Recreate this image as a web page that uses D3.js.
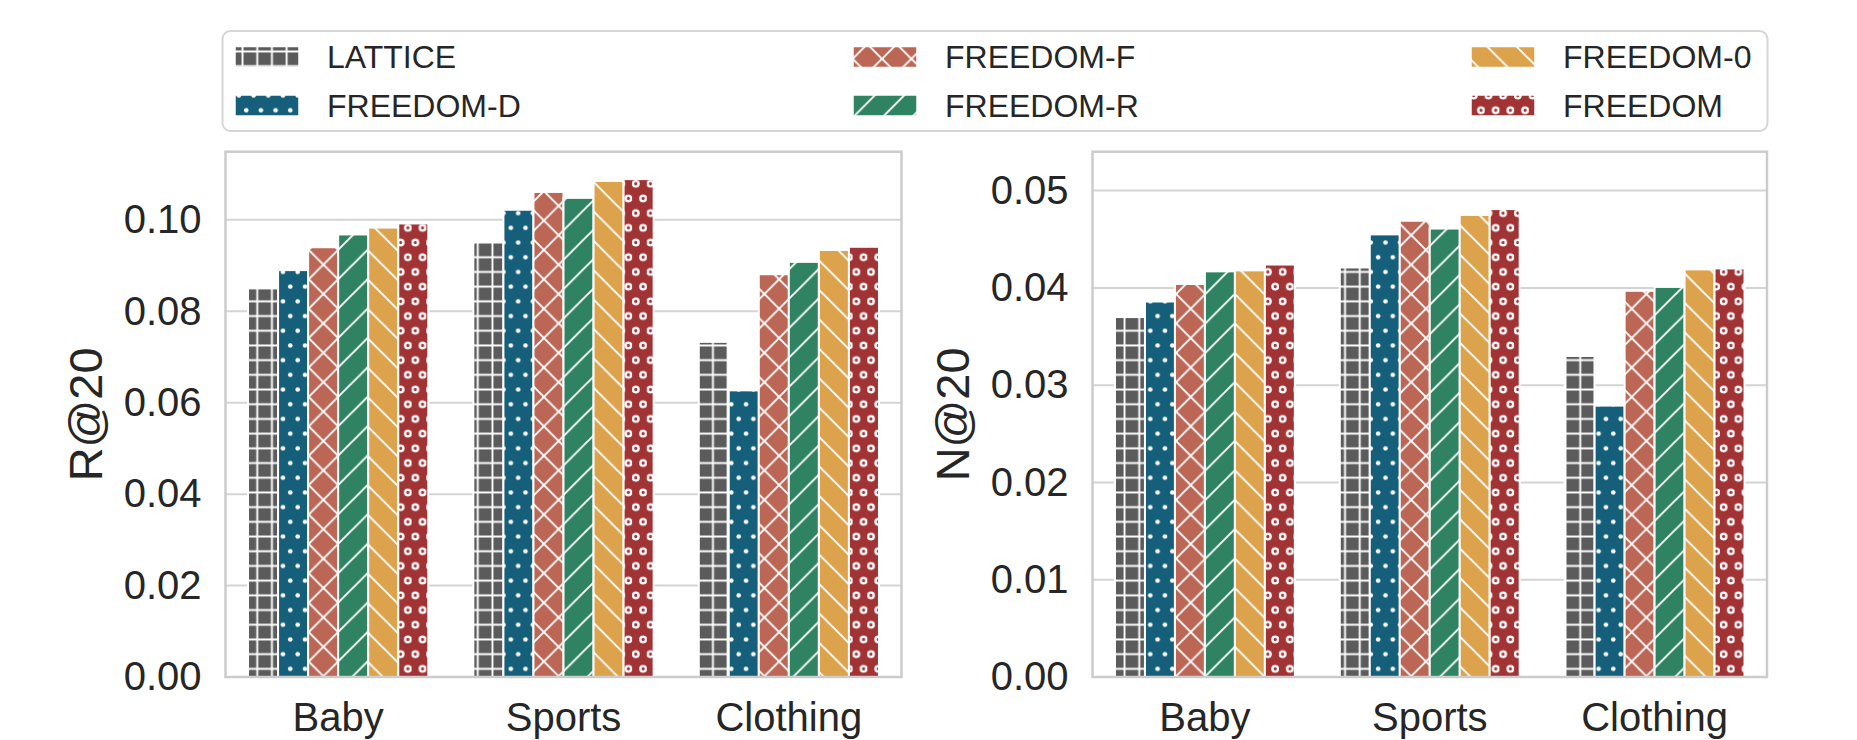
<!DOCTYPE html>
<html>
<head>
<meta charset="utf-8">
<script src="https://cdn.jsdelivr.net/npm/d3@7"></script>
<style>
  body { margin: 0; background: #fff; }
  svg { display: block; }
</style>
</head>
<body>
<div id="chart"></div>
<script>
// categories and methods
const categories = ["Baby", "Sports", "Clothing"];
const methods = ["LATTICE", "FREEDOM-D", "FREEDOM-F", "FREEDOM-R", "FREEDOM-0", "FREEDOM"];

// R@20 per dataset, one value per method
const recallBaby = [0.0850, 0.0890, 0.0940, 0.0968, 0.0983, 0.0992];
const recallSports = [0.0953, 0.1022, 0.1061, 0.1048, 0.1085, 0.1089];
const recallClothing = [0.0733, 0.0627, 0.0881, 0.0908, 0.0934, 0.0941];

// N@20 per dataset
const ndcgBaby = [0.0370, 0.0386, 0.0404, 0.0417, 0.0418, 0.0424];
const ndcgSports = [0.0421, 0.0455, 0.0469, 0.0461, 0.0475, 0.0481];
const ndcgClothing = [0.0330, 0.0279, 0.0397, 0.0401, 0.0419, 0.0420];

const recallTicks = [0, 0.02, 0.04, 0.06, 0.08, 0.10];
const ndcgTicks = [0, 0.01, 0.02, 0.03, 0.04, 0.05];
const recallMax = 0.1149;
const ndcgMax = 0.0540;

const colors = ["#5b5b5b", "#155f7b", "#bc6656", "#2f8262", "#dca24c", "#a23335"];
const FONT = "'Liberation Sans', Arial, sans-serif";
const INK = "#262626";

const W = 1857, H = 740;
const svg = d3.select("#chart").append("svg").attr("width", W).attr("height", H);
const defs = svg.append("defs");

// hatch patterns (matplotlib-like: unit of ~88px, 6 lines per unit)
const s = 14.7, s2 = 29.4, hw = 1.9;
function pat(i, w, h) {
    const p = defs.append("pattern").attr("id", "pat" + i)
        .attr("patternUnits", "userSpaceOnUse").attr("width", w).attr("height", h);
    p.append("rect").attr("width", w).attr("height", h).attr("fill", colors[i]);
    return p;
}
// 0: grid '+'
pat(0, s, s).append("path").attr("d", `M${s / 2},0V${s}M0,${s / 2}H${s}`)
    .attr("stroke", "#fff").attr("stroke-width", hw);
// 1: dots '.'
{
    const p = pat(1, s, s2);
    [[s / 4, s / 2], [s * 3 / 4, s * 1.5]].forEach(([cx, cy]) =>
        p.append("circle").attr("cx", cx).attr("cy", cy).attr("r", 2.3).attr("fill", "#fff"));
}
// 2: cross 'x'
pat(2, s2, s2).append("path")
    .attr("d", `M-2,-2L${s2 + 2},${s2 + 2}M-2,${s2 + 2}L${s2 + 2},-2`)
    .attr("stroke", "#fff").attr("stroke-width", hw);
// 3: '/'
pat(3, s2, s2).append("path")
    .attr("d", `M-2,${s2 + 2}L${s2 + 2},-2M-4,4L4,-4M${s2 - 4},${s2 + 4}L${s2 + 4},${s2 - 4}`)
    .attr("stroke", "#fff").attr("stroke-width", hw);
// 4: '\'
pat(4, s2, s2).append("path")
    .attr("d", `M-2,-2L${s2 + 2},${s2 + 2}M-4,${s2 - 4}L4,${s2 + 4}M${s2 - 4},-4L${s2 + 4},4`)
    .attr("stroke", "#fff").attr("stroke-width", hw);
// 5: rings 'o'
{
    const p = pat(5, s, s2);
    [[s / 4, s / 2], [s * 3 / 4, s * 1.5]].forEach(([cx, cy]) =>
        p.append("circle").attr("cx", cx).attr("cy", cy).attr("r", 2.8)
            .attr("fill", "none").attr("stroke", "#fff").attr("stroke-width", 2.4));
}

function drawPanel(p) {
    const g = svg.append("g");
    const x = d3.scaleBand().domain(categories).range([p.left, p.right]).padding(0);
    const xi = d3.scaleBand().domain(methods)
        .range([x.bandwidth() * 0.1, x.bandwidth() * 0.9]).padding(0);
    const y = d3.scaleLinear().domain([0, p.ymax]).range([p.bottom, p.top]);

    // grid
    g.append("g").selectAll("line").data(p.ticks).join("line")
        .attr("x1", p.left).attr("x2", p.right)
        .attr("y1", d => y(d)).attr("y2", d => y(d))
        .attr("stroke", "#d4d4d4").attr("stroke-width", 2);

    // bars
    const rows = categories.flatMap((c, i) => p.series[i].map((v, j) => ({ c, m: methods[j], v, j })));
    g.append("g").selectAll("rect").data(rows).join("rect")
        .attr("x", d => x(d.c) + xi(d.m)).attr("width", xi.bandwidth())
        .attr("y", d => y(d.v)).attr("height", d => y(0) - y(d.v))
        .attr("fill", d => `url(#pat${d.j})`)
        .attr("stroke", "#fff").attr("stroke-width", 2);

    // y axis
    g.append("g").attr("transform", `translate(${p.left},0)`)
        .call(d3.axisLeft(y).tickValues(p.ticks).tickFormat(d3.format(".2f")).tickSize(0).tickPadding(24))
        .call(a => a.select(".domain").remove())
        .attr("font-size", 40).attr("font-family", FONT).attr("color", INK);

    // x axis
    g.append("g").attr("transform", `translate(0,${p.bottom})`)
        .call(d3.axisBottom(x).tickSize(0).tickPadding(26))
        .call(a => a.select(".domain").remove())
        .attr("font-size", 40).attr("font-family", FONT).attr("color", INK);

    // frame
    g.append("rect").attr("x", p.left).attr("y", p.top)
        .attr("width", p.right - p.left).attr("height", p.bottom - p.top)
        .attr("fill", "none").attr("stroke", "#cccccc").attr("stroke-width", 2.5);

    // y label
    g.append("text")
        .attr("transform", `translate(${p.left - 124},${(p.top + p.bottom) / 2}) rotate(-90)`)
        .attr("text-anchor", "middle").attr("font-size", 47)
        .attr("font-family", FONT).attr("fill", INK).text(p.label);
}

drawPanel({
    left: 225.5, right: 901.5, top: 151.7, bottom: 677,
    series: [recallBaby, recallSports, recallClothing],
    ticks: recallTicks, ymax: recallMax, label: "R@20"
});
drawPanel({
    left: 1092.5, right: 1767, top: 151.7, bottom: 677,
    series: [ndcgBaby, ndcgSports, ndcgClothing],
    ticks: ndcgTicks, ymax: ndcgMax, label: "N@20"
});

// legend, 3 columns filled column-wise
const lg = svg.append("g");
lg.append("rect").attr("x", 222.5).attr("y", 31).attr("width", 1545).attr("height", 100)
    .attr("rx", 8).attr("fill", "#fff").attr("stroke", "#d6d6d6").attr("stroke-width", 2);
methods.forEach((m, i) => {
    const col = Math.floor(i / 2), row = i % 2;
    const px = 235 + col * 618, cy = 57 + row * 48.5;
    lg.append("rect").attr("x", px).attr("y", cy - 10.5).attr("width", 64).attr("height", 21)
        .attr("fill", `url(#pat${i})`).attr("stroke", "#fff").attr("stroke-width", 1.5);
    lg.append("text").attr("x", px + 92).attr("y", cy).attr("dy", "0.35em")
        .attr("font-size", 32).attr("font-family", FONT).attr("fill", INK).text(m);
});
</script>
</body>
</html>
